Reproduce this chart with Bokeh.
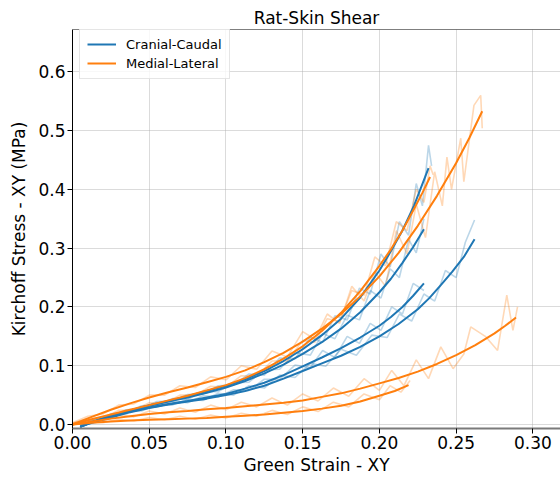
from bokeh.plotting import figure
from bokeh.models import Range1d, FixedTicker, NumeralTickFormatter, Span, Legend, LegendItem
from bokeh.embed import file_html
from bokeh.resources import INLINE

BLUE = "#1f77b4"
ORANGE = "#ff7f0e"

title_text = "Rat-Skin Shear"
x_label = "Green Strain - XY"
y_label = "Kirchoff Stress - XY (MPa)"
series_names = ["Cranial-Caudal", "Medial-Lateral"]
x_ticks = [0.0, 0.05, 0.10, 0.15, 0.20, 0.25, 0.30]
y_ticks = [0.0, 0.1, 0.2, 0.3, 0.4, 0.5, 0.6]

# ---- Cranial-Caudal fits ----
b1_x = [0.005, 0.0125, 0.025, 0.0375, 0.05, 0.0625, 0.075, 0.0875, 0.10, 0.1125, 0.125, 0.1375, 0.15, 0.1625,
        0.175, 0.1875, 0.20, 0.2075, 0.215, 0.2225, 0.232]
b1_y = [-0.004, 0.004, 0.015, 0.024, 0.033, 0.040, 0.048, 0.057, 0.066, 0.077, 0.091, 0.108, 0.128, 0.152,
        0.180, 0.216, 0.262, 0.295, 0.330, 0.372, 0.436]
b2_x = [0.005, 0.0125, 0.025, 0.0375, 0.05, 0.0625, 0.075, 0.0875, 0.10, 0.1125, 0.125, 0.1375, 0.15, 0.1625,
        0.175, 0.1875, 0.20, 0.2075, 0.215, 0.222, 0.229]
b2_y = [-0.004, 0.004, 0.015, 0.024, 0.032, 0.039, 0.046, 0.054, 0.063, 0.074, 0.087, 0.102, 0.120, 0.140,
        0.163, 0.191, 0.225, 0.248, 0.275, 0.302, 0.332]
b3_x = [0.005, 0.0125, 0.025, 0.0375, 0.05, 0.0625, 0.075, 0.0875, 0.10, 0.1125, 0.125, 0.1375, 0.15, 0.1625,
        0.175, 0.1875, 0.20, 0.2125, 0.225, 0.2325, 0.24, 0.2475, 0.255, 0.262]
b3_y = [-0.004, 0.003, 0.012, 0.021, 0.028, 0.034, 0.039, 0.044, 0.050, 0.057, 0.066, 0.078, 0.091, 0.104,
        0.117, 0.132, 0.150, 0.171, 0.196, 0.215, 0.237, 0.260, 0.285, 0.315]
b4_x = [0.005, 0.0125, 0.025, 0.0375, 0.05, 0.0625, 0.075, 0.0875, 0.10, 0.1125, 0.125, 0.1375, 0.15, 0.1625,
        0.175, 0.1875, 0.20, 0.2075, 0.215, 0.222, 0.229]
b4_y = [-0.004, 0.004, 0.013, 0.022, 0.029, 0.035, 0.040, 0.046, 0.052, 0.061, 0.071, 0.084, 0.099, 0.114,
        0.130, 0.148, 0.168, 0.183, 0.200, 0.219, 0.240]

# ---- Medial-Lateral fits ----
o1_x = [0.0, 0.0125, 0.025, 0.0375, 0.05, 0.0625, 0.075, 0.0875, 0.10, 0.1125, 0.125, 0.1375, 0.15, 0.1625,
        0.175, 0.1875, 0.20, 0.2075, 0.215, 0.222, 0.228, 0.233]
o1_y = [0.0, 0.009, 0.017, 0.025, 0.033, 0.041, 0.049, 0.058, 0.067, 0.079, 0.094, 0.112, 0.133, 0.159,
        0.190, 0.227, 0.270, 0.298, 0.330, 0.364, 0.394, 0.421]
o2_x = [0.0, 0.0125, 0.025, 0.0375, 0.05, 0.0625, 0.075, 0.0875, 0.10, 0.1125, 0.125, 0.1375, 0.15, 0.1625,
        0.175, 0.1875, 0.20, 0.2125, 0.225, 0.2375, 0.25, 0.2585, 0.267]
o2_y = [0.0, 0.013, 0.025, 0.036, 0.046, 0.055, 0.063, 0.072, 0.081, 0.092, 0.106, 0.122, 0.141, 0.163,
        0.188, 0.218, 0.252, 0.292, 0.338, 0.389, 0.445, 0.487, 0.533]
o3_x = [0.0, 0.0125, 0.025, 0.0375, 0.05, 0.0625, 0.075, 0.0875, 0.10, 0.1125, 0.125, 0.1375, 0.15, 0.1625,
        0.175, 0.1875, 0.20, 0.2125, 0.225, 0.2375, 0.25, 0.2625, 0.275, 0.282, 0.289]
o3_y = [0.0, 0.005, 0.010, 0.014, 0.018, 0.021, 0.023, 0.026, 0.028, 0.031, 0.034, 0.037, 0.041, 0.047,
        0.053, 0.061, 0.070, 0.079, 0.090, 0.103, 0.118, 0.135, 0.155, 0.168, 0.182]
o4_x = [0.0, 0.0125, 0.025, 0.0375, 0.05, 0.0625, 0.075, 0.0875, 0.10, 0.1125, 0.125, 0.1375, 0.15, 0.1625,
        0.175, 0.1875, 0.20, 0.21, 0.219]
o4_y = [0.0, 0.003, 0.005, 0.007, 0.008, 0.009, 0.010, 0.011, 0.013, 0.015, 0.017, 0.020, 0.023, 0.027,
        0.032, 0.039, 0.049, 0.057, 0.067]

# ---- raw (noisy) measurements ----
rb1_x = [0.005, 0.015, 0.025, 0.035, 0.045, 0.055, 0.065, 0.075, 0.085, 0.095, 0.105, 0.115, 0.125, 0.135, 0.145,
         0.155, 0.163, 0.171, 0.179, 0.187, 0.194, 0.201, 0.207, 0.213, 0.219, 0.224, 0.228, 0.232, 0.234]
rb1_y = [-0.002, 0.010, 0.013, 0.025, 0.027, 0.039, 0.040, 0.051, 0.052, 0.066, 0.067, 0.086, 0.084, 0.113, 0.112,
         0.148, 0.140, 0.185, 0.178, 0.232, 0.222, 0.290, 0.268, 0.345, 0.322, 0.410, 0.372, 0.475, 0.440]
rb2_x = [0.005, 0.015, 0.025, 0.035, 0.045, 0.055, 0.065, 0.075, 0.085, 0.095, 0.105, 0.115, 0.125, 0.135, 0.145,
         0.155, 0.163, 0.171, 0.179, 0.187, 0.194, 0.201, 0.207, 0.213, 0.219, 0.224, 0.229]
rb2_y = [-0.001, 0.005, 0.018, 0.020, 0.032, 0.033, 0.044, 0.043, 0.056, 0.056, 0.071, 0.072, 0.093, 0.094, 0.122,
         0.118, 0.155, 0.146, 0.186, 0.178, 0.228, 0.215, 0.265, 0.250, 0.315, 0.292, 0.350]
rb3_x = [0.005, 0.015, 0.025, 0.035, 0.045, 0.055, 0.065, 0.075, 0.085, 0.095, 0.105, 0.115, 0.125, 0.135, 0.145,
         0.155, 0.165, 0.175, 0.185, 0.195, 0.205, 0.213, 0.221, 0.229, 0.236, 0.243, 0.250, 0.256, 0.262]
rb3_y = [-0.002, 0.009, 0.010, 0.022, 0.023, 0.034, 0.033, 0.043, 0.041, 0.053, 0.050, 0.066, 0.062, 0.084, 0.080,
         0.104, 0.099, 0.128, 0.118, 0.152, 0.148, 0.188, 0.176, 0.222, 0.210, 0.262, 0.250, 0.310, 0.348]
rb4_x = [0.005, 0.015, 0.025, 0.035, 0.045, 0.055, 0.065, 0.075, 0.085, 0.095, 0.105, 0.115, 0.125, 0.135, 0.145,
         0.155, 0.163, 0.171, 0.179, 0.187, 0.194, 0.201, 0.208, 0.215, 0.222, 0.229]
rb4_y = [-0.001, 0.003, 0.016, 0.018, 0.029, 0.030, 0.039, 0.037, 0.049, 0.047, 0.059, 0.058, 0.077, 0.077, 0.101,
         0.097, 0.126, 0.114, 0.150, 0.138, 0.172, 0.160, 0.200, 0.188, 0.240, 0.228]

ro1_x = [0.0, 0.01, 0.02, 0.03, 0.04, 0.05, 0.06, 0.07, 0.08, 0.09, 0.10, 0.11, 0.12, 0.13, 0.14, 0.15, 0.158,
         0.166, 0.174, 0.182, 0.19, 0.197, 0.204, 0.211, 0.218, 0.224, 0.229, 0.233, 0.235]
ro1_y = [0.002, 0.010, 0.011, 0.024, 0.024, 0.037, 0.036, 0.050, 0.050, 0.065, 0.063, 0.083, 0.082, 0.108, 0.108,
         0.143, 0.140, 0.180, 0.175, 0.228, 0.220, 0.285, 0.270, 0.345, 0.330, 0.400, 0.378, 0.440, 0.425]
ro2_x = [0.0, 0.01, 0.02, 0.03, 0.04, 0.05, 0.06, 0.07, 0.08, 0.09, 0.10, 0.11, 0.12, 0.13, 0.14, 0.15, 0.158,
         0.166, 0.174, 0.182, 0.19, 0.197, 0.204, 0.211, 0.218, 0.224, 0.230, 0.236, 0.241, 0.244, 0.247, 0.253,
         0.255, 0.2616, 0.266, 0.267]
ro2_y = [0.003, 0.014, 0.018, 0.033, 0.035, 0.050, 0.050, 0.066, 0.063, 0.081, 0.076, 0.100, 0.094, 0.125, 0.115,
         0.158, 0.145, 0.188, 0.172, 0.235, 0.210, 0.260, 0.235, 0.330, 0.290, 0.375, 0.318, 0.430, 0.372, 0.455,
         0.400, 0.487, 0.413, 0.543, 0.560, 0.504]
ro3_x = [0.0, 0.01, 0.02, 0.03, 0.04, 0.05, 0.06, 0.07, 0.08, 0.09, 0.10, 0.11, 0.12, 0.13, 0.14, 0.15, 0.16, 0.17,
         0.18, 0.19, 0.20, 0.208, 0.216, 0.224, 0.232, 0.24, 0.248, 0.255, 0.2595, 0.269, 0.277, 0.283, 0.287, 0.29]
ro3_y = [0.002, 0.008, 0.006, 0.016, 0.013, 0.023, 0.018, 0.028, 0.021, 0.033, 0.025, 0.038, 0.030, 0.045, 0.033,
         0.052, 0.040, 0.062, 0.048, 0.078, 0.058, 0.092, 0.066, 0.110, 0.078, 0.132, 0.095, 0.120, 0.166, 0.150,
         0.126, 0.220, 0.160, 0.200]
ro4_x = [0.0, 0.01, 0.02, 0.03, 0.04, 0.05, 0.06, 0.07, 0.08, 0.09, 0.10, 0.11, 0.12, 0.13, 0.14, 0.15, 0.16, 0.17,
         0.18, 0.19, 0.20, 0.207, 0.214, 0.22]
ro4_y = [0.001, 0.005, 0.003, 0.009, 0.006, 0.012, 0.008, 0.014, 0.009, 0.016, 0.011, 0.019, 0.014, 0.024, 0.017,
         0.030, 0.022, 0.038, 0.030, 0.052, 0.042, 0.066, 0.055, 0.075]

FONT = "DejaVu Sans"

p = figure(width=560, height=478, x_range=Range1d(0, 0.318), y_range=Range1d(-0.0068, 0.672),
           output_backend="svg", toolbar_location=None,
           min_border_left=72, min_border_right=0, min_border_top=29, min_border_bottom=50)

p.title.text = title_text
p.title.text_font = FONT
p.title.text_font_size = "17px"
p.title.text_font_style = "normal"
p.title.text_color = "#000000"
p.title.align = "center"
p.title.standoff = 4

p.outline_line_color = None

for ax in (p.xaxis[0], p.yaxis[0]):
    ax.axis_label_text_font = FONT
    ax.axis_label_text_font_size = "17px"
    ax.axis_label_text_font_style = "normal"
    ax.axis_label_text_color = "#000000"
    ax.major_label_text_font = FONT
    ax.major_label_text_font_size = "17px"
    ax.major_label_text_color = "#000000"
    ax.major_tick_in = 0
    ax.major_tick_out = 5
    ax.major_tick_line_color = "#000000"
    ax.minor_tick_line_color = None
    ax.major_label_standoff = 2

p.xaxis.axis_label = x_label
p.yaxis.axis_label = y_label
p.xaxis.ticker = FixedTicker(ticks=x_ticks)
p.yaxis.ticker = FixedTicker(ticks=y_ticks)
p.xaxis.formatter = NumeralTickFormatter(format="0.00")
p.yaxis.formatter = NumeralTickFormatter(format="0.0")
p.xaxis.axis_label_standoff = 3
p.yaxis.axis_label_standoff = 6
p.yaxis.axis_line_color = "#000000"
p.xaxis.axis_line_color = "#7a7a7a"
p.xaxis.axis_line_width = 2

p.grid.grid_line_color = "#b0b0b0"
p.grid.grid_line_alpha = 0.45
p.grid.grid_line_width = 1

p.add_layout(Span(location=0.672, dimension="width", line_color="#000000", line_width=1))

raw_b = [(rb1_x, rb1_y), (rb2_x, rb2_y), (rb3_x, rb3_y), (rb4_x, rb4_y)]
raw_o = [(ro1_x, ro1_y), (ro2_x, ro2_y), (ro3_x, ro3_y), (ro4_x, ro4_y)]
fit_b = [(b1_x, b1_y), (b2_x, b2_y), (b3_x, b3_y), (b4_x, b4_y)]
fit_o = [(o1_x, o1_y), (o2_x, o2_y), (o3_x, o3_y), (o4_x, o4_y)]

for xs, ys in raw_b:
    p.line(xs, ys, line_color=BLUE, line_alpha=0.3, line_width=1.6)
for xs, ys in raw_o:
    p.line(xs, ys, line_color=ORANGE, line_alpha=0.3, line_width=1.6)

blue_r = []
for xs, ys in fit_b:
    blue_r.append(p.line(xs, ys, line_color=BLUE, line_width=2))
orange_r = []
for xs, ys in fit_o:
    orange_r.append(p.line(xs, ys, line_color=ORANGE, line_width=2))

legend = Legend(items=[LegendItem(label=series_names[0], renderers=[blue_r[0]]),
                       LegendItem(label=series_names[1], renderers=[orange_r[0]])],
                location=(7, 349))
legend.label_text_font = FONT
legend.label_text_font_size = "13px"
legend.label_text_color = "#000000"
legend.padding = 7
legend.spacing = 3
legend.glyph_width = 29
legend.glyph_height = 16
legend.label_height = 16
legend.label_standoff = 10
legend.border_line_color = "#cccccc"
legend.border_line_width = 1
legend.background_fill_alpha = 0.8
legend.margin = 0
p.add_layout(legend)

open("out.html", "w").write(file_html(p, INLINE))
